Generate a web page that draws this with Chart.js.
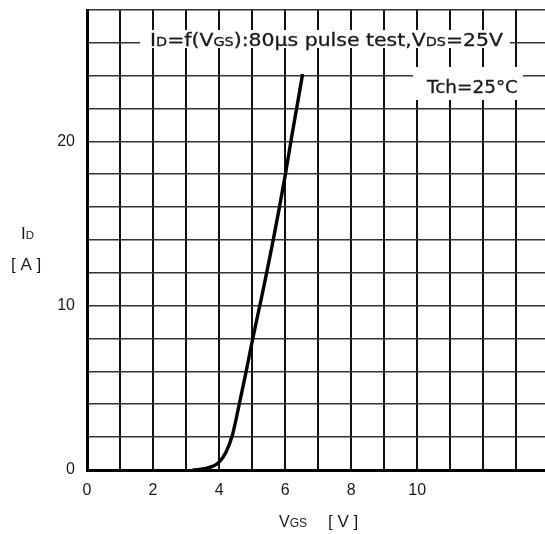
<!DOCTYPE html>
<html>
<head>
<meta charset="utf-8">
<script src="https://cdn.jsdelivr.net/npm/chart.js@4"></script>
<style>
  html, body { margin: 0; padding: 0; background: #fff; }
  #wrap { width: 545px; height: 534px; }
</style>
</head>
<body>
<div id="wrap"><canvas id="chart" width="545" height="534"></canvas></div>
<script>
// --- DATA ---
const vgs = [3.2, 3.4, 3.6, 3.8, 4.0, 4.2, 4.4, 4.6, 4.8, 5.0, 5.2, 5.4, 5.6, 5.8, 6.0, 6.2, 6.4, 6.53];
const idA = [0, 0.03, 0.1, 0.22, 0.48, 1.05, 2.1, 3.9, 5.8, 7.8, 9.7, 11.6, 13.6, 15.7, 17.9, 20.3, 22.6, 24.1];
const xTickLabels = [0, 2, 4, 6, 8, 10];
const yTickLabels = [0, 10, 20];

const TEXT = '#1a1a1a';
const SANS = '"Liberation Sans", Arial, sans-serif';
const PLOT = '"DejaVu Sans", sans-serif';

// draws a run of text pieces of mixed sizes on one baseline, squeezed to a width
function drawRun(ctx, pieces, x, base, family, fitWidth, thicken) {
    let total = 0;
    pieces.forEach(p => {
        ctx.font = p.size + 'px ' + family;
        p.w = ctx.measureText(p.t).width;
        total += p.w;
    });
    const sx = fitWidth ? fitWidth / total : 1;
    ctx.save();
    ctx.translate(x, base);
    ctx.scale(sx, 1);
    ctx.fillStyle = TEXT;
    ctx.strokeStyle = TEXT;
    ctx.lineWidth = thicken || 0;
    ctx.textBaseline = 'alphabetic';
    ctx.textAlign = 'left';
    let cx = 0;
    pieces.forEach(p => {
        ctx.font = p.size + 'px ' + family;
        ctx.fillText(p.t, cx, 0);
        if (thicken) ctx.strokeText(p.t, cx, 0);
        cx += p.w;
    });
    ctx.restore();
}

const labelsPlugin = {
    id: 'labels',
    beforeDatasetsDraw(chart) {
        const ctx = chart.ctx;
        ctx.save();
        ctx.fillStyle = '#fff';
        ctx.fillRect(140, 30, 370, 18);
        ctx.fillRect(413, 67, 110, 33);
        ctx.restore();

        drawRun(ctx, [
            { t: 'I', size: 17 }, { t: 'D', size: 12 }, { t: '=f(V', size: 17 },
            { t: 'GS', size: 12 }, { t: '):80μs pulse test,V', size: 17 },
            { t: 'DS', size: 12 }, { t: '=25V', size: 17 }
        ], 150, 46, PLOT, 353, 0.3);
        drawRun(ctx, [{ t: 'Tch=25°C', size: 17 }], 427, 93, PLOT, 91, 0.3);
    },
    afterDraw(chart) {
        const ctx = chart.ctx;
        // axis titles
        drawRun(ctx, [{ t: 'I', size: 17 }, { t: 'D', size: 11.5 }], 21, 239, SANS);
        drawRun(ctx, [{ t: '[ A ]', size: 17 }], 11, 270, SANS);
        drawRun(ctx, [{ t: 'V', size: 16 }, { t: 'GS', size: 12 }], 279, 527, SANS);
        drawRun(ctx, [{ t: '[ V ]', size: 17 }], 328, 527, SANS);
    }
};

new Chart(document.getElementById('chart'), {
    type: 'scatter',
    data: {
        datasets: [{
            data: vgs.map((v, i) => ({ x: v, y: idA[i] })),
            showLine: true,
            borderColor: '#000',
            borderWidth: 3.4,
            pointRadius: 0,
            cubicInterpolationMode: 'monotone',
            fill: false
        }]
    },
    options: {
        responsive: false,
        animation: false,
        layout: { padding: { top: 10, left: 0, right: 0, bottom: 0 } },
        plugins: {
            legend: { display: false },
            tooltip: { enabled: false }
        },
        scales: {
            x: {
                type: 'linear',
                min: 0,
                max: 13.87,
                afterFit: s => { s.height = 64; s.paddingLeft = 0; s.paddingRight = 0; },
                grid: { color: '#111', lineWidth: 2, drawTicks: false },
                border: { display: true, color: '#000', width: 3 },
                ticks: {
                    stepSize: 1,
                    includeBounds: false,
                    autoSkip: false,
                    maxRotation: 0,
                    padding: 11,
                    color: TEXT,
                    font: { family: SANS, size: 16 },
                    callback: v => xTickLabels.includes(v) ? String(v) : ''
                }
            },
            y: {
                type: 'linear',
                min: 0,
                max: 28,
                afterFit: s => { s.width = 87; s.paddingTop = 0; s.paddingBottom = 0; },
                grid: { color: '#333', lineWidth: 1.6, drawTicks: false },
                border: { display: true, color: '#000', width: 3 },
                ticks: {
                    stepSize: 2,
                    autoSkip: false,
                    padding: 12,
                    color: TEXT,
                    font: { family: SANS, size: 16 },
                    callback: v => yTickLabels.includes(v) ? String(v) : ''
                }
            }
        }
    },
    plugins: [labelsPlugin]
});
</script>
</body>
</html>
